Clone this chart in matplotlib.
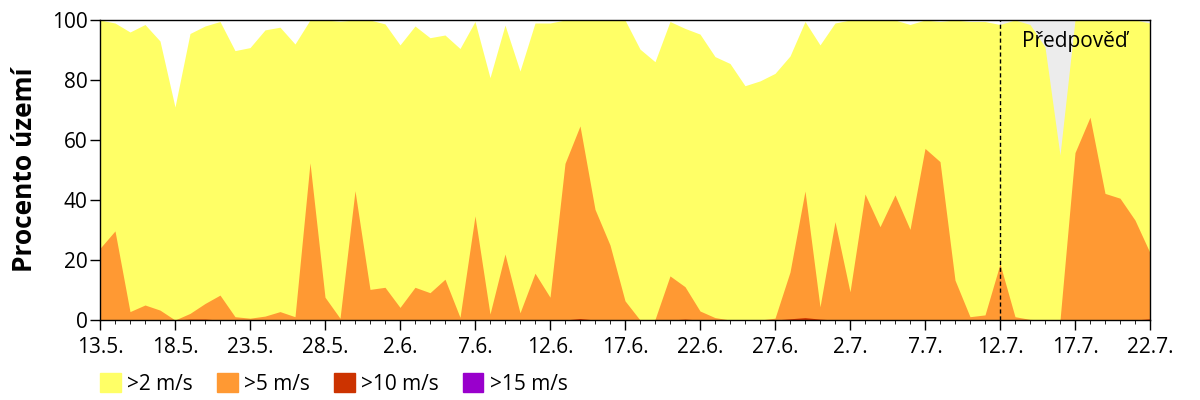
import numpy as np
import pandas as pd
import matplotlib
matplotlib.use('Agg')
import matplotlib.pyplot as plt
from matplotlib.patches import Patch

plt.rcParams['font.family'] = ['Open Sans', 'DejaVu Sans']

# daily values, 13.5. .. 22.7. (71 days), percent of territory
dates = pd.date_range('2015-05-13', '2015-07-22', freq='D')

over2 = [100, 99, 96, 98.5, 93, 71, 95.5, 98, 99.5, 89.8, 90.8, 96.7, 97.6, 92,
         100, 100, 99.6, 100, 100, 98.7, 91.7, 98, 94.1, 95, 90.5, 99.5, 80.8,
         98.3, 83, 99, 99, 100, 100, 100, 100, 100, 90.3, 86.1, 99.5, 97.2, 95.3,
         87.8, 85.5, 78.1, 79.7, 82.2, 88, 99.5, 91.7, 99, 100, 100, 100, 100,
         98.5, 100, 99.5, 100, 99.5, 99.5, 98.5, 100, 98.5, 91, 55, 100, 100,
         100, 100, 100, 99]
over5 = [23.9, 29.7, 2.8, 5, 3.3, 0, 2.2, 5.5, 8.3, 1.1, 0.6, 1.3, 2.8, 1.1,
         52.4, 7.6, 0.6, 43.1, 10.2, 10.9, 4.2, 10.9, 9.1, 13.6, 0.9, 34.7, 2,
         22, 2.4, 15.6, 7.6, 52.2, 64.7, 36.9, 25, 6.4, 0, 0.2, 14.7, 11.1, 3,
         0.8, 0, 0, 0, 0.6, 16, 43, 4.4, 32.8, 9.4, 42, 31.1, 41.7, 30.2, 57.2,
         52.8, 13.3, 1.1, 1.7, 18.7, 1.1, 0.2, 0, 0, 55.8, 67.6, 42.2, 40.6,
         33.3, 22.4]
over10 = [0] * 71
for k, v in {6: 0.3, 7: 0.3, 32: 0.5, 39: 0.3, 46: 0.4, 47: 0.8, 48: 0.3, 70: 0.4}.items():
    over10[k] = v
over15 = [0] * 71

forecast_start = pd.Timestamp('2015-07-12')
tick_dates = pd.date_range('2015-05-13', '2015-07-22', freq='5D')
tick_labels = ['13.5.', '18.5.', '23.5.', '28.5.', '2.6.', '7.6.', '12.6.', '17.6.',
               '22.6.', '27.6.', '2.7.', '7.7.', '12.7.', '17.7.', '22.7.']

series = [(over2, '#ffff66', '>2 m/s'), (over5, '#ff9933', '>5 m/s'),
          (over10, '#cc3300', '>10 m/s'), (over15, '#9900cc', '>15 m/s')]

fig = plt.figure(figsize=(12, 4), dpi=100)
ax = fig.add_axes([100 / 1200, 80 / 400, 1050 / 1200, 300 / 400])

ax.axvspan(forecast_start, dates[-1], color='#ececec', lw=0, zorder=0)
for vals, col, lab in series:
    ax.fill_between(dates, 0, vals, color=col, lw=0, zorder=1)

ax.axvline(forecast_start, color='black', ls=(0, (3, 2)), lw=1, zorder=3)
ax.text(forecast_start + pd.Timedelta(days=1.45), 91, 'Předpověď', fontsize=15,
        ha='left', va='baseline', zorder=4)

ax.set_xlim(dates[0], dates[-1])
ax.set_ylim(0, 100)
ax.set_xticks(tick_dates)
ax.set_xticklabels(tick_labels)
ax.set_xticks(dates, minor=True)
ax.set_yticks([0, 20, 40, 60, 80, 100])
ax.tick_params(axis='both', which='major', labelsize=15, length=7, direction='out', width=1)
ax.tick_params(axis='x', which='minor', length=3, direction='out')
ax.tick_params(axis='x', pad=5)
ax.tick_params(axis='y', pad=2)
ax.set_ylabel('Procento území', fontsize=19, fontweight='bold')
ax.yaxis.set_label_coords(-62 / 1050, 0.5)
for s in ax.spines.values():
    s.set_linewidth(1)
    s.set_zorder(5)

handles = [Patch(color=col, label=lab) for _, col, lab in series]
fig.legend(handles=handles, loc='center left', bbox_to_anchor=(100 / 1200, 16 / 400), ncol=4,
           frameon=False, fontsize=15, handlelength=1.0, handleheight=1.05,
           columnspacing=1.15, handletextpad=0.3, borderpad=0, borderaxespad=0)

fig.savefig('out.png', dpi=100)
